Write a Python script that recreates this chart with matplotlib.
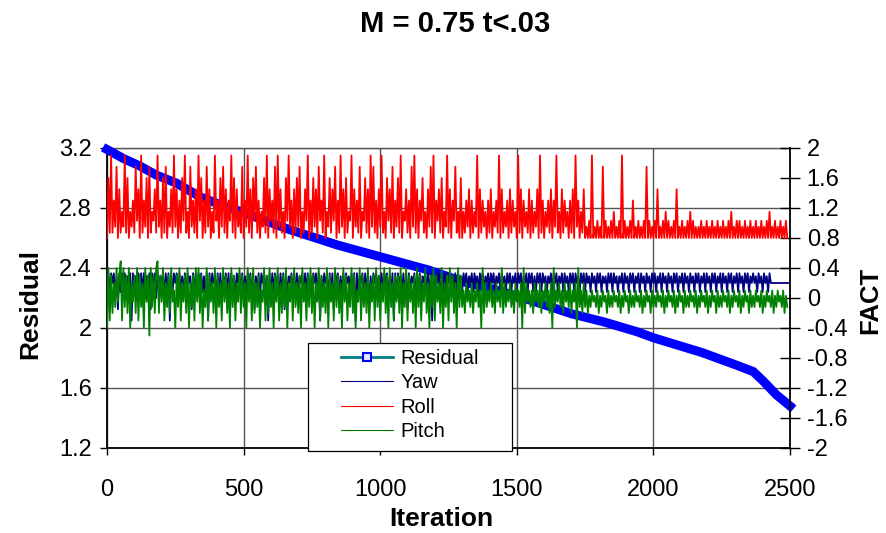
import numpy as np
import matplotlib.pyplot as plt
from matplotlib.lines import Line2D
from matplotlib.patches import Rectangle

plt.rcParams['font.family'] = ['Liberation Sans', 'DejaVu Sans']
plt.rcParams['axes.unicode_minus'] = False

# ---- data ----------------------------------------------------------------

title = 'M = 0.75 t<.03'

# residual (left axis), read at selected iterations
res_iter = [0, 60, 120, 180, 255, 340, 425, 500, 550, 670, 790, 840, 1000, 1120,
            1180, 1300, 1430, 1550, 1700, 1820, 1940, 2000, 2180, 2300, 2365,
            2400, 2450, 2500]
res_vals = [3.19, 3.13, 3.08, 3.02, 2.965, 2.875, 2.815, 2.77, 2.735, 2.655, 2.585,
            2.555, 2.475, 2.415, 2.385, 2.31, 2.25, 2.185, 2.095, 2.04, 1.975,
            1.935, 1.835, 1.755, 1.71, 1.65, 1.555, 1.48]

# FACT series (right axis), one code every 5 iterations, code -> level
step = 5

yaw_levels = {'0': -0.3, '1': -0.15, '2': 0.0, '3': 0.08, '4': 0.2,
              '5': 0.25, '6': 0.29, '7': 0.33}
yaw_codes = ''.join([
    "27374726173727463707362747372637174727364727370637",
    "47273637274617372747362707374627372647371736274737",
    "26374727163727473607273746273717264737273647273726",
    "37472706374627371747263727463727073647273716274736",
    "27374726370727463727173647273726473727063747263727",
    "4736273746",
    "37473647374637473647374736473746374736473747364737",
    "4736374737463647374736473746374737463747",
    "37463746374736463747374636473746374736473746374637",
    "47364737463746374736473746374637473647374637473647",
    "374637473647374637473647463746374637",
    "444444444444444",
])

roll_levels = {'0': 0.80, '1': 0.87, '2': 0.95, '3': 1.03, '4': 1.15,
               '5': 1.30, '6': 1.45, '7': 1.60, '8': 1.75, '9': 1.90}
roll_codes = ''.join([
    "07191528061429170425183609152708143619250718042619",
    "26051739140825160937051826041935072816053917062418",
    "05291607381504271906351809261407392506172804163905",
    "17260835190427163805192607143906251804371609281506",
    "29140736180527190436150829160537140628190536170429",
    "1605381407",
    "04152605142906152405160425190614250615240916052416",
    "0514260915042516052914061524051609250416",
    "02030902030208030203040203090302030502030203080302",
    "03060203040302030602030203040302",
    "0203020302030203020302030402030302030203020302",
    "030203040203020302030",
])

pitch_levels = {'0': -0.4, '1': -0.3, '2': -0.2, '3': -0.12, '4': -0.05,
                '5': 0.03, '6': 0.1, '7': 0.2, '8': 0.3, '9': 0.4,
                'a': 0.49, 'b': -0.5}
pitch_codes = ''.join([
    "0918273948a19382907482918370948b93829a284917382946",
    "08391748290738194928063918472908371948270938174928",
    "37094819273806491829370849172839074819372809471839",
    "28074918372908471938270948173928064918372907481938",
    "17492809371848290739184728093817492708391847290738",
    "1948270938",
    "36274637264736092736473627463927364736274637092746",
    "3627463726473627093647362746372647093627",
    "36253645362536452635364536253645263536453625364526",
    "35364536253645362536452635364536253645362536452635",
    "3645362536453625364526353645362536453625364536253",
])

left_ticks = [1.2, 1.6, 2.0, 2.4, 2.8, 3.2]
left_labels = ['1.2', '1.6', '2', '2.4', '2.8', '3.2']
right_ticks = [-2, -1.6, -1.2, -0.8, -0.4, 0, 0.4, 0.8, 1.2, 1.6, 2]
right_labels = ['-2', '-1.6', '-1.2', '-0.8', '-0.4', '0', '0.4', '0.8', '1.2', '1.6', '2']
x_ticks = [0, 500, 1000, 1500, 2000, 2500]


def decode(codes, levels):
    vals = np.array([levels[c] for c in codes])
    its = np.arange(len(vals)) * step
    return its, vals


yaw_x, yaw = decode(yaw_codes, yaw_levels)
roll_x, roll = decode(roll_codes, roll_levels)
pitch_x, pitch = decode(pitch_codes, pitch_levels)

# ---- figure --------------------------------------------------------------

W, H = 886, 533
fig = plt.figure(figsize=(W / 100, H / 100), dpi=100)
ax = fig.add_axes([107 / W, 1 - 448 / H, 683 / W, 300 / H])
ax2 = ax.twinx()

grid_col = '#555555'
noise_lw = 1.3

ax.plot(res_iter, res_vals, color='blue', lw=6.5, solid_capstyle='projecting',
        solid_joinstyle='miter', clip_on=False, zorder=3)

ax2.plot(yaw_x, yaw, color='#000080', lw=noise_lw)
ax2.plot(roll_x, roll, color='#ff0000', lw=noise_lw)
ax2.plot(pitch_x, pitch, color='#008000', lw=noise_lw)

ax.set_xlim(0, 2500)
ax.set_ylim(1.2, 3.2)
ax2.set_ylim(-2, 2)

ax.set_xticks(x_ticks)
ax.set_xticklabels([str(t) for t in x_ticks])
ax.set_yticks(left_ticks)
ax.set_yticklabels(left_labels)
ax2.set_yticks(right_ticks)
ax2.set_yticklabels(right_labels)

ax.grid(True, color=grid_col, lw=1.0)
ax.set_axisbelow(True)

ax.tick_params(axis='y', direction='out', length=5, width=1, labelsize=17, pad=6)
ax.tick_params(axis='x', direction='out', length=5, width=1, labelsize=17, pad=17)
ax2.tick_params(axis='y', direction='inout', length=14, width=1, labelsize=17, pad=5)

for s in ['left', 'bottom']:
    ax.spines[s].set_color('black')
    ax.spines[s].set_linewidth(1.3)
ax.spines['top'].set_color(grid_col)
ax.spines['top'].set_linewidth(1.0)
ax.spines['right'].set_visible(False)
for s in ['left', 'bottom', 'top']:
    ax2.spines[s].set_visible(False)
ax2.spines['right'].set_color('black')
ax2.spines['right'].set_linewidth(1.3)

ax.set_ylabel('Residual', fontsize=19, fontweight='bold', va='center')
ax.yaxis.set_label_coords(-0.113, 0.48)
ax.set_xlabel('Iteration', fontsize=19, fontweight='bold', va='center')
ax.xaxis.set_label_coords(0.49, -0.237)
ax2.set_ylabel('FACT', fontsize=18.5, fontweight='bold', va='center', rotation=90)
ax2.yaxis.set_label_coords(1.118, 0.493)

fig.text(455 / W, 1 - 24 / H, title, ha='center', va='center',
         fontsize=21, fontweight='bold')

# legend box
box = Rectangle((0.294, -0.01), 0.299, 0.36, transform=ax2.transAxes,
                facecolor='white', edgecolor='black', lw=0.9, zorder=5, clip_on=False)
ax2.add_patch(box)
h_res = Line2D([], [], color='#008080', lw=2, marker='s', ms=6,
               mfc='#e8e8ff', mec='blue', mew=1.5)
h_yaw = Line2D([], [], color='#000080', lw=0.8)
h_roll = Line2D([], [], color='#ff0000', lw=0.8)
h_pitch = Line2D([], [], color='#008000', lw=0.8)
leg = ax2.legend([h_res, h_yaw, h_roll, h_pitch], ['Residual', 'Yaw', 'Roll', 'Pitch'],
                 loc='upper left', bbox_to_anchor=(0.3426, 0.33), frameon=False,
                 fontsize=14.5, handlelength=2.6, handletextpad=0.35,
                 labelspacing=0.27, borderpad=0, borderaxespad=0)
leg.set_zorder(6)

fig.savefig('out.png', dpi=100)
